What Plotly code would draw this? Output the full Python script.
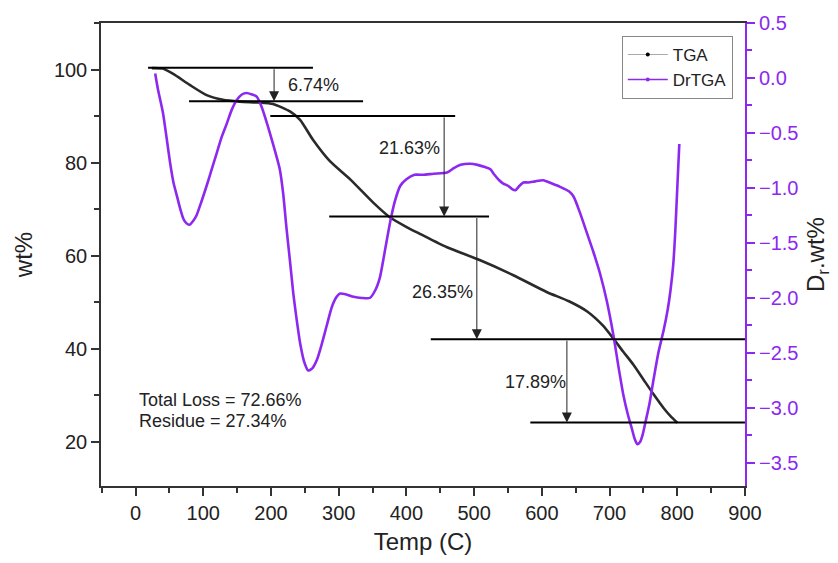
import plotly.graph_objects as go

# ---- data ----
temp_tga = [24, 40, 55, 80, 105, 129, 154, 180, 203, 228, 243, 262, 287, 317, 351, 376,
            401, 420, 460, 509, 558, 607, 640, 667, 690, 705, 720, 735, 750, 765, 780, 790, 800]
wt_tga = [100.3, 100.2, 99.1, 96.7, 94.5, 93.5, 93.1, 92.9, 92.6, 91.0, 89.2, 84.9, 80.3, 76.4, 71.4, 68.2,
          66.1, 64.7, 61.8, 59.0, 55.8, 52.2, 50.2, 48.0, 45.0, 42.3, 39.4, 36.6, 33.4, 30.2, 27.2, 25.5, 24.1]

temp_dtg = [29, 33, 40.6, 46, 51, 56, 61, 66, 70.6, 75, 79.5, 85, 90, 97, 105, 112, 120, 127, 135, 142,
            149.5, 157, 164, 172, 179, 186, 194, 203, 213, 218, 223, 228, 233, 238, 243, 249, 255, 261,
            268, 275, 282, 290, 297, 302, 312, 322, 334, 346, 354, 361, 368, 376, 383, 391, 400, 412,
            425, 440, 460, 470, 480, 494, 505, 516, 524, 530, 537, 543, 550, 556, 561, 567, 573, 580,
            590, 602, 615, 627, 640, 647, 656, 666, 676, 686, 696, 706, 713, 720.6, 727, 733, 737, 741,
            745, 749, 753, 759, 765, 772, 780, 786, 790, 794, 797, 800, 803]
dtg = [0.04, -0.10, -0.32, -0.55, -0.77, -0.95, -1.07, -1.19, -1.28, -1.32, -1.335, -1.30, -1.25, -1.13,
       -0.98, -0.84, -0.68, -0.54, -0.41, -0.29, -0.20, -0.15, -0.136, -0.15, -0.17, -0.26, -0.41, -0.60,
       -0.83, -1.05, -1.37, -1.66, -1.96, -2.20, -2.41, -2.58, -2.66, -2.64, -2.56, -2.42, -2.26, -2.08,
       -1.99, -1.96, -1.97, -1.99, -2.00, -2.00, -1.93, -1.81, -1.58, -1.31, -1.12, -0.98, -0.92, -0.88,
       -0.88, -0.87, -0.86, -0.82, -0.79, -0.78, -0.79, -0.81, -0.83, -0.88, -0.93, -0.96, -0.98, -1.01,
       -1.02, -0.98, -0.95, -0.95, -0.94, -0.93, -0.96, -0.99, -1.03, -1.08, -1.22, -1.40, -1.58, -1.78,
       -2.03, -2.35, -2.62, -2.89, -3.06, -3.19, -3.28, -3.33, -3.31, -3.24, -3.13, -2.96, -2.74, -2.50,
       -2.29, -2.10, -1.93, -1.70, -1.40, -1.00, -0.60]

# step baselines (wt%) and their temperature extents
step_levels = [100.4, 93.2, 90.04, 68.41, 42.06, 24.17]
step_x_start = [18.5, 79, 199, 286, 436, 583]
step_x_end = [262, 336, 472, 522, 900, 900]

# arrows: temperature, from-level index, to-level index
arrow_temp = [204.6, 455.7, 504, 637]
arrow_from = [0, 2, 3, 4]
arrow_to = [1, 3, 4, 5]

# loss labels
loss_text = ["6.74%", "21.63%", "26.35%", "17.89%"]
loss_x = [262.5, 404, 454, 590]
loss_y = [96.6, 83.1, 52.2, 32.8]

summary_lines = ["Total Loss = 72.66%", "Residue = 27.34%"]
summary_x = [2.2, 2.2]
summary_y = [29.0, 24.5]

PURPLE = "#8C28F0"
FONT = "Liberation Sans, Arial, sans-serif"

fig = go.Figure()

fig.add_trace(go.Scatter(x=temp_tga, y=wt_tga, mode="lines", line=dict(color="#2a2a2a", width=2.6, shape="spline", smoothing=0.6),
                         showlegend=False, yaxis="y"))
fig.add_trace(go.Scatter(x=temp_dtg, y=dtg, mode="lines", line=dict(color=PURPLE, width=2.6, shape="spline", smoothing=0.6),
                         showlegend=False, yaxis="y2"))

# legend entries
fig.add_trace(go.Scatter(x=[None], y=[None], mode="lines+markers", name="TGA",
                         line=dict(color="#aaaaaa", width=1), marker=dict(color="black", size=4)))
fig.add_trace(go.Scatter(x=[None], y=[None], mode="lines+markers", name="DrTGA", yaxis="y2",
                         line=dict(color=PURPLE, width=1.5), marker=dict(color=PURPLE, size=4)))

shapes = []
for lv, xs, xe in zip(step_levels, step_x_start, step_x_end):
    shapes.append(dict(type="line", xref="x", yref="y", x0=xs, x1=xe, y0=lv, y1=lv,
                       line=dict(color="black", width=2)))

annotations = []
for t, fi, ti in zip(arrow_temp, arrow_from, arrow_to):
    annotations.append(dict(x=t, y=step_levels[ti], ax=t, ay=step_levels[fi], xref="x", yref="y",
                            axref="x", ayref="y", text="", showarrow=True, arrowhead=2, arrowsize=2,
                            arrowwidth=1, arrowcolor="#222", standoff=0, startstandoff=0))
for txt, x, y in zip(loss_text, loss_x, loss_y):
    annotations.append(dict(x=x, y=y, xref="x", yref="y", text=txt, showarrow=False,
                            font=dict(family=FONT, size=18, color="#222")))
for txt, x, y in zip(summary_lines, summary_x, summary_y):
    annotations.append(dict(x=x, y=y, xref="x", yref="y", text=txt, showarrow=False, xanchor="left",
                            font=dict(family=FONT, size=18, color="#222")))

fig.update_layout(
    width=838, height=563,
    margin=dict(l=101, r=93, t=19, b=77),
    plot_bgcolor="white", paper_bgcolor="white",
    font=dict(family=FONT, size=20, color="#222"),
    shapes=shapes, annotations=annotations,
    xaxis=dict(range=[-51, 900], tickvals=[0, 100, 200, 300, 400, 500, 600, 700, 800, 900],
               ticks="outside", ticklen=8, tickwidth=1.5, tickcolor="#333",
               minor=dict(dtick=50, tick0=0, ticks="outside", ticklen=5, tickcolor="#333"),
               showline=True, linecolor="#333", linewidth=1.5, mirror=True, showgrid=False, zeroline=False,
               title=dict(text="Temp (C)", font=dict(size=24), standoff=10),
               tickfont=dict(size=20)),
    yaxis=dict(range=[10.5, 110], tickvals=[20, 40, 60, 80, 100],
               ticks="outside", ticklen=8, tickwidth=1.5, tickcolor="#333",
               minor=dict(dtick=10, tick0=0, ticks="outside", ticklen=5, tickcolor="#333"),
               showline=True, linecolor="#333", linewidth=1.5, showgrid=False, zeroline=False,
               title=dict(text="wt%", font=dict(size=24), standoff=14),
               tickfont=dict(size=20)),
    yaxis2=dict(range=[-3.71, 0.5], overlaying="y", side="right",
                tickvals=[0.5, 0.0, -0.5, -1.0, -1.5, -2.0, -2.5, -3.0, -3.5], tickformat=".1f",
                ticks="outside", ticklen=8, tickwidth=1.5, tickcolor=PURPLE,
                minor=dict(dtick=0.25, tick0=0, ticks="outside", ticklen=5, tickcolor=PURPLE),
                showline=True, linecolor=PURPLE, linewidth=2, showgrid=False, zeroline=False,
                tickfont=dict(size=20, color=PURPLE),
                title=dict(text="D<sub>r</sub>.wt%", font=dict(size=24, color="#222"), standoff=10)),
    legend=dict(x=0.981, y=0.972, xanchor="right", yanchor="top", bgcolor="white",
                bordercolor="#888", borderwidth=1, font=dict(size=17, color="#222"),
                tracegroupgap=0, itemwidth=40),
)

fig.write_html("out.html")
